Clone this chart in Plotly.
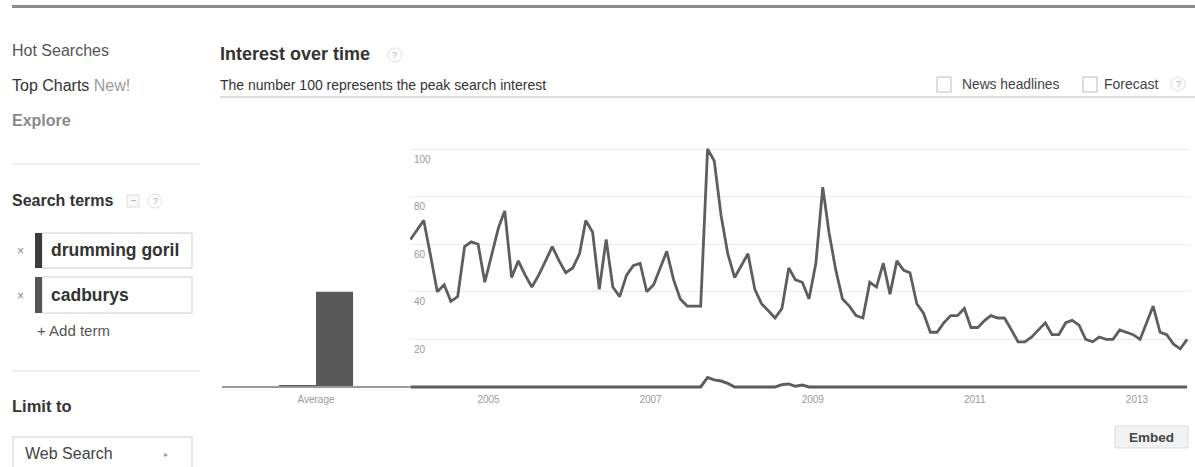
import plotly.graph_objects as go

W, H = 1195, 467

# ---------------- data ----------------
months = [f"{y}-{m:02d}-15" for y in range(2004, 2014) for m in range(1, 13)][:116]

cadburys = [62, 66, 70, 55, 40, 43, 36, 38, 59, 61, 60, 44,
            56, 67, 74, 46, 53, 47, 42, 47, 53, 59, 53, 48,
            50, 56, 70, 65, 41, 62, 42, 38, 47, 51, 52, 40,
            43, 50, 57, 45, 37, 34, 34, 34, 100, 95, 72, 56,
            46, 51, 56, 41, 35, 32, 29, 33, 50, 45, 44, 37,
            52, 84, 65, 49, 37, 34, 30, 29, 44, 42, 52, 39,
            53, 49, 48, 35, 31, 23, 23, 27, 30, 30, 33, 25,
            25, 28, 30, 29, 29, 24, 19, 19, 21, 24, 27, 22,
            22, 27, 28, 26, 20, 19, 21, 20, 20, 24, 23, 22,
            20, 27, 34, 23, 22, 18, 16, 20]

gorilla = [0, 0, 0, 0, 0, 0, 0, 0, 0, 0, 0, 0,
           0, 0, 0, 0, 0, 0, 0, 0, 0, 0, 0, 0,
           0, 0, 0, 0, 0, 0, 0, 0, 0, 0, 0, 0,
           0, 0, 0, 0, 0, 0, 0, 0, 4, 3, 2.5, 1.5,
           0, 0, 0, 0, 0, 0, 0, 1, 1.3, 0.3, 0.8, 0,
           0, 0, 0, 0, 0, 0, 0, 0, 0, 0, 0, 0,
           0, 0, 0, 0, 0, 0, 0, 0, 0, 0, 0, 0,
           0, 0, 0, 0, 0, 0, 0, 0, 0, 0, 0, 0,
           0, 0, 0, 0, 0, 0, 0, 0, 0, 0, 0, 0,
           0, 0, 0, 0, 0, 0, 0, 0]

avg_terms = ["drumming gorilla", "cadburys"]
avg_values = [0.6, 40]
avg_label = "Average"

year_tick_dates = ["2005-01-01", "2007-01-01", "2009-01-01", "2011-01-01", "2013-01-01"]
year_tick_text = ["2005", "2007", "2009", "2011", "2013"]
y_tick_vals = [20, 40, 60, 80, 100]

# ---------------- helpers ----------------
FONT = "Liberation Sans, Arial, sans-serif"


def px(x):
    return x / W


def py(y):
    return 1 - y / H


UNIT = 2.38          # px per value unit
Y0 = 387             # px of value 0
YR = [-2, 105]
y_dom = [py(Y0 - YR[0] * UNIT), py(Y0 - YR[1] * UNIT)]

fig = go.Figure()

# average bars
for term, val in zip(avg_terms, avg_values):
    fig.add_trace(go.Bar(x=[avg_label], y=[val], name=term, marker_color="#585858",
                         marker_line_width=0, xaxis="x2", yaxis="y2",
                         hoverinfo="skip"))

# time series
fig.add_trace(go.Scatter(x=months, y=cadburys, mode="lines", name="cadburys",
                         line=dict(color="#5e5e5e", width=2.8), xaxis="x", yaxis="y"))
fig.add_trace(go.Scatter(x=months, y=gorilla, mode="lines", name="drumming gorilla",
                         line=dict(color="#5c5c5c", width=3), xaxis="x", yaxis="y"))

fig.update_layout(
    width=W, height=H,
    margin=dict(l=0, r=0, t=0, b=0),
    paper_bgcolor="white", plot_bgcolor="white",
    showlegend=False,
    barmode="group", bargap=0.606, bargroupgap=0,
    font=dict(family=FONT, color="#333"),
    xaxis=dict(domain=[px(410), px(1190)], type="date",
               range=["2004-01-13", "2013-08-28"], anchor="y",
               showgrid=False, zeroline=False, showline=False, ticks="",
               tickvals=year_tick_dates, ticktext=year_tick_text,
               tickfont=dict(size=10, color="#999")),
    yaxis=dict(domain=y_dom, range=YR, anchor="x",
               showgrid=True, gridcolor="#ebebeb", gridwidth=1,
               zeroline=False, showline=False, ticks="",
               tickvals=y_tick_vals, showticklabels=False),
    xaxis2=dict(domain=[px(222), px(410)], type="category", anchor="y2",
                showgrid=False, zeroline=False, showline=False, ticks="",
                tickfont=dict(size=10, color="#999")),
    yaxis2=dict(domain=y_dom, range=YR, anchor="x2", visible=False,
                showgrid=False, zeroline=False),
)

shapes = []


def line(x0, y0, x1, y1, color, w):
    shapes.append(dict(type="line", xref="paper", yref="paper",
                       x0=px(x0), y0=py(y0), x1=px(x1), y1=py(y1),
                       line=dict(color=color, width=w)))


def rect(x0, y0, x1, y1, line_color, fill, w=1):
    shapes.append(dict(type="rect", xref="paper", yref="paper",
                       x0=px(x0), y0=py(y0), x1=px(x1), y1=py(y1),
                       line=dict(color=line_color, width=w), fillcolor=fill))


def circle(cx, cy, r, color):
    shapes.append(dict(type="circle", xref="paper", yref="paper",
                       x0=px(cx - r), y0=py(cy + r), x1=px(cx + r), y1=py(cy - r),
                       line=dict(color=color, width=1), fillcolor="white"))


# page lines
line(12, 6.5, 1195, 6.5, "#8c8c8c", 3)
line(12, 164, 200, 164, "#e8e8e8", 1.5)
line(12, 371, 200, 371, "#e8e8e8", 1.5)
line(220, 97, 1195, 97, "#dcdcdc", 2)
# baseline under average bars
line(222, Y0, 410, Y0, "#9a9a9a", 2)

# search term boxes
rect(42, 233, 192, 268, "#cfcfcf", "white")
rect(35, 233, 42, 268, "#3c3c3c", "#3c3c3c", 0)
rect(42, 277, 192, 313, "#cfcfcf", "white")
rect(35, 277, 42, 313, "#555555", "#555555", 0)
# web search box
rect(13, 437, 192, 475, "#cfcfcf", "white")
# small icons
rect(127, 195, 139, 207, "#dddddd", "#f7f7f7")
circle(155, 201, 7, "#dddddd")
circle(395, 55, 7, "#dddddd")
circle(1178, 84, 7, "#dddddd")
# checkboxes
rect(937, 77, 951, 92, "#bbbbbb", "white")
rect(1083, 77, 1097, 92, "#bbbbbb", "white")
# embed button
rect(1115, 426, 1188, 448, "#dddddd", "#f2f2f2")

fig.update_layout(shapes=shapes)

anns = []


def text(x, y, s, size, color="#333", bold=False, anchor="left"):
    if bold:
        s = f"<b>{s}</b>"
    anns.append(dict(x=px(x), y=py(y), xref="paper", yref="paper", text=s,
                     showarrow=False, xanchor=anchor, yanchor="middle",
                     font=dict(family=FONT, size=size, color=color)))


text(10, 50, "Hot Searches", 16, "#555")
text(10, 85, "Top Charts <span style='color:#9a9a9a'>New!</span>", 16, "#333")
text(10, 121, "Explore", 16, "#8a8a8a", bold=True)
text(10, 201, "Search terms", 16, "#333", bold=True)
text(133, 200, "–", 9, "#999", anchor="center")
text(155, 201, "?", 9, "#aaa", anchor="center")
text(20, 251, "×", 12, "#888", anchor="center")
text(20, 296, "×", 12, "#888", anchor="center")
text(49, 250, "drumming goril", 17.5, "#333", bold=True)
text(49, 295, "cadburys", 17.5, "#333", bold=True)
text(35, 330, "+ Add term", 15, "#555")
text(10, 406, "Limit to", 16.5, "#333", bold=True)
text(23, 453, "Web Search", 16, "#444")
text(166, 454, "▸", 8, "#999", anchor="center")

text(218, 54, "Interest over time", 18, "#333", bold=True)
text(395, 55, "?", 9, "#aaa", anchor="center")
text(218, 85, "The number 100 represents the peak search interest", 14, "#333")
text(960, 84, "News headlines", 13.8, "#444")
text(1102, 84, "Forecast", 14, "#444")
text(1178, 84, "?", 9, "#aaa", anchor="center")
text(1151, 437, "Embed", 13.5, "#444", bold=True, anchor="center")

# y tick labels, placed in data coordinates just below each gridline
for v in y_tick_vals:
    anns.append(dict(x=px(412), y=v, xref="paper", yref="y", text=str(v),
                     showarrow=False, xanchor="left", yanchor="middle", yshift=-10,
                     font=dict(family=FONT, size=10, color="#999")))

fig.update_layout(annotations=anns)

fig.write_html("out.html", config={"displayModeBar": False},
               post_script="document.body.style.margin='0';")
